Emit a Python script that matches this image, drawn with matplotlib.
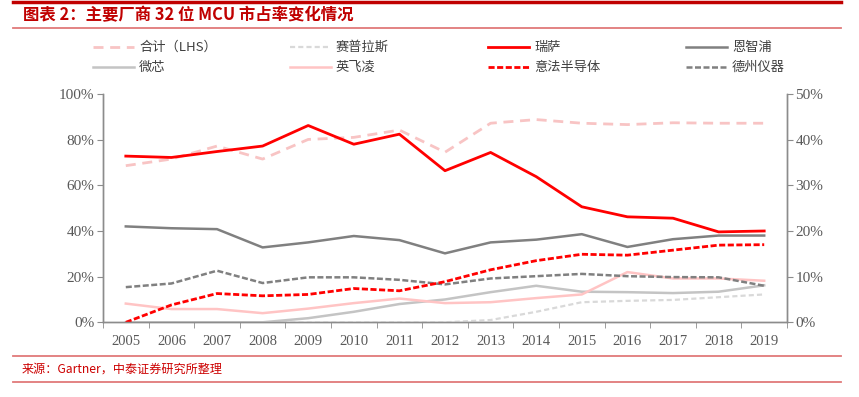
import matplotlib
matplotlib.use("Agg")
import matplotlib.pyplot as plt
from matplotlib.lines import Line2D
from matplotlib.ticker import FuncFormatter

plt.rcParams['font.family'] = ['Noto Sans CJK SC', 'DejaVu Sans']

years = [str(y) for y in range(2005, 2020)]

# 合计（LHS），左轴
total = [68.6, 71.5, 77.2, 71.5, 80.1, 81.0, 84.2, 74.5, 87.2, 88.8, 87.2, 86.6, 87.4, 87.2, 87.2]

# 右轴
cypress = [0, 0, 0, 0, 0, 0, 0, 0, 0.5, 2.3, 4.4, 4.7, 4.9, 5.5, 6.1]
renesas = [36.4, 36.1, 37.4, 38.6, 43.1, 39.0, 41.2, 33.2, 37.2, 31.9, 25.3, 23.1, 22.8, 19.8, 20.0]
nxp = [21.0, 20.6, 20.4, 16.4, 17.5, 18.9, 18.0, 15.1, 17.5, 18.1, 19.3, 16.5, 18.2, 19.0, 19.0]
microchip = [0, 0, 0, 0, 0.9, 2.3, 4.0, 5.0, 6.6, 8.0, 6.7, 6.6, 6.4, 6.7, 8.1]
infineon = [4.1, 2.9, 2.9, 2.0, 3.0, 4.2, 5.2, 4.2, 4.4, 5.3, 6.1, 11.0, 9.6, 9.6, 9.1]
st = [0, 3.8, 6.3, 5.8, 6.1, 7.4, 6.9, 8.9, 11.5, 13.5, 14.9, 14.7, 15.8, 16.9, 17.0]
ti = [7.7, 8.5, 11.3, 8.6, 9.85, 9.85, 9.3, 8.3, 9.6, 10.1, 10.6, 10.1, 9.9, 9.85, 8.0]

# 系列: (名称, 数据, 颜色, 线宽, 虚线样式, 是否右轴)
series = [
    ('合计（LHS）', total, '#F8C4C4', 2.0, (3.6, 2.4), False),
    ('赛普拉斯', cypress, '#D9D9D9', 1.6, (2.3, 1.4), True),
    ('微芯', microchip, '#C4C4C4', 1.8, None, True),
    ('英飞凌', infineon, '#FFC4C4', 1.8, None, True),
    ('德州仪器', ti, '#808080', 1.8, (2.4, 1.0), True),
    ('恩智浦', nxp, '#808080', 1.8, None, True),
    ('意法半导体', st, '#FF0000', 2.0, (2.2, 0.9), True),
    ('瑞萨', renesas, '#FF0000', 2.0, None, True),
]
legend_order = ['合计（LHS）', '赛普拉斯', '瑞萨', '恩智浦', '微芯', '英飞凌', '意法半导体', '德州仪器']

W, H = 859, 397
fig = plt.figure(figsize=(W / 100, H / 100), dpi=100)
ax = fig.add_axes([103 / W, 1 - 322.3 / H, (787 - 103) / W, (322.3 - 94) / H])
ax2 = ax.twinx()

x = list(range(len(years)))
axis_col = '#8C8C8C'
tick_col = '#595959'
serif = 'Liberation Serif'

style = {}
for name, vals, col, lw, dash, right in series:
    kw = dict(color=col, lw=lw)
    if dash:
        kw['dashes'] = dash
    (ax2 if right else ax).plot(x, vals, **kw)
    style[name] = kw

ax.set_xlim(-0.5, len(years) - 0.5)
ax.set_ylim(0, 100)
ax2.set_ylim(0, 50)
ax.set_yticks(range(0, 101, 20))
ax2.set_yticks(range(0, 51, 10))
pct = FuncFormatter(lambda v, p: '%d%%' % v)
ax.yaxis.set_major_formatter(pct)
ax2.yaxis.set_major_formatter(pct)

ax.set_xticks(x)
ax.set_xticklabels(years)
ax.set_xticks([i - 0.5 for i in range(len(years) + 1)], minor=True)
ax.tick_params(axis='x', which='major', length=0, pad=9)
ax.tick_params(axis='x', which='minor', length=4, color=axis_col)

for a in (ax, ax2):
    a.spines['top'].set_visible(False)
    for s in ('left', 'right', 'bottom'):
        a.spines[s].set_color(axis_col)
        a.spines[s].set_linewidth(1.0)
    a.tick_params(axis='y', length=4, color=axis_col, labelcolor=tick_col, labelsize=11, pad=2)
    for lab in a.get_yticklabels():
        lab.set_fontfamily(serif)
ax.tick_params(axis='x', labelcolor=tick_col, labelsize=10.5)
for lab in ax.get_xticklabels():
    lab.set_fontfamily(serif)

# 图例：两行四列，手工摆放
col_x = [93, 290, 488, 686]
row_y = [47, 67]
for k, name in enumerate(legend_order):
    x0 = col_x[k % 4]
    y0 = 1 - row_y[k // 4] / H
    fig.add_artist(Line2D([x0 / W, (x0 + 41) / W], [y0, y0], **style[name]))
    fig.text((x0 + 46) / W, y0, name, color='#404040', fontsize=9.5, va='center', ha='left')

# 标题与来源
fig.add_artist(Line2D([13 / W, 841 / W], [1 - 1.5 / H, 1 - 1.5 / H], color='#C00000', lw=2.5))
fig.text(23 / W, 1 - 15 / H, '图表 2：主要厂商 32 位 MCU 市占率变化情况', color='#C00000',
         fontsize=11.8, fontweight='bold', style='italic', va='center', ha='left')
fig.add_artist(Line2D([13 / W, 841 / W], [1 - 28 / H, 1 - 28 / H], color='#E07A7A', lw=1.3))
fig.add_artist(Line2D([13 / W, 841 / W], [1 - 355.7 / H, 1 - 355.7 / H], color='#E07A7A', lw=1.3))
fig.text(22 / W, 1 - 369 / H, '来源：Gartner，中泰证券研究所整理', color='#CC0000',
         fontsize=8.7, va='center', ha='left')
fig.add_artist(Line2D([13 / W, 841 / W], [1 - 381.7 / H, 1 - 381.7 / H], color='#E07A7A', lw=1.3))

fig.savefig('out.png', dpi=100)
